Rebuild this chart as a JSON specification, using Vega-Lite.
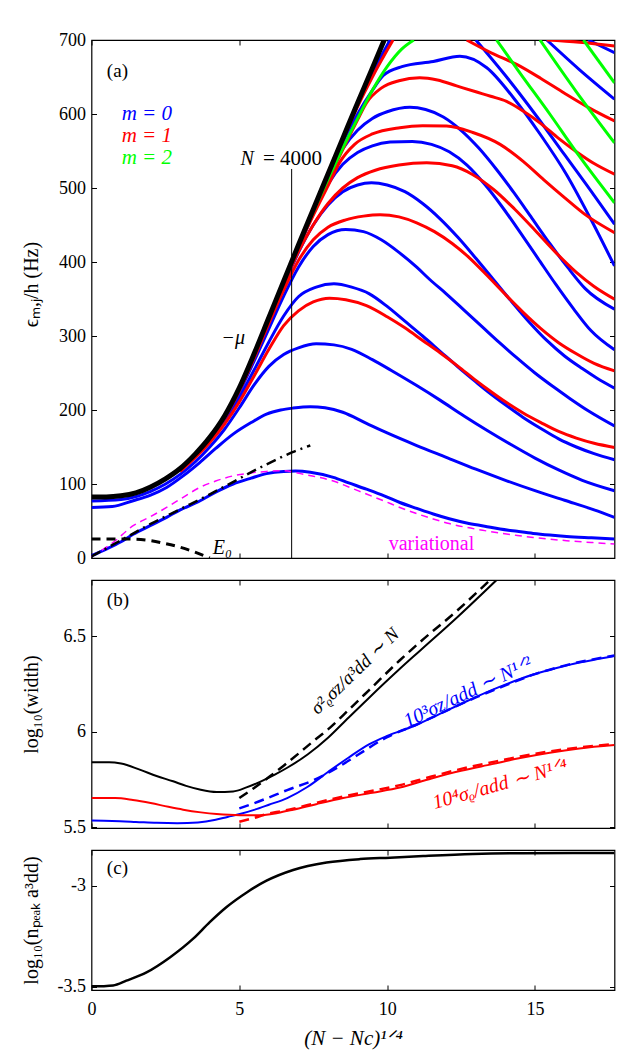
{
"$schema":"https://vega.github.io/schema/vega-lite/v6.json",
"padding":{"left":20.5,"top":30,"right":10,"bottom":10},
"spacing":22,
"bounds":"flush",
"resolve":{"scale":{"color":"independent"}},
"config":{
 "view":{"stroke":"#000","strokeWidth":1.2},
 "axis":{"grid":false,"domain":false,"tickColor":"#000","tickWidth":1,"tickSize":-5,"labelFlush":false,"labelOverlap":false,"labelFont":"Liberation Serif","labelFontSize":18,"labelColor":"#000","labelPadding":11,"titleFont":"Liberation Serif","titleFontSize":20,"titleFontWeight":"normal","titleColor":"#000"},
 "line":{"interpolate":"monotone"},
 "text":{"font":"Liberation Serif","fontSize":19,"baseline":"middle"}
},
"datasets":{
"A":[
{"s":"B1","c":"b","x":0,"y":3},{"s":"B1","c":"b","x":0.5,"y":12},{"s":"B1","c":"b","x":1,"y":22},{"s":"B1","c":"b","x":1.41,"y":32},{"s":"B1","c":"b","x":2,"y":44},{"s":"B1","c":"b","x":2.54,"y":55},{"s":"B1","c":"b","x":3,"y":65},{"s":"B1","c":"b","x":3.66,"y":77},{"s":"B1","c":"b","x":4.2,"y":89},{"s":"B1","c":"b","x":4.79,"y":100},{"s":"B1","c":"b","x":5.4,"y":108},{"s":"B1","c":"b","x":5.92,"y":114},{"s":"B1","c":"b","x":6.5,"y":117},{"s":"B1","c":"b","x":6.9,"y":117.5},{"s":"B1","c":"b","x":7.4,"y":116},{"s":"B1","c":"b","x":8.18,"y":109},{"s":"B1","c":"b","x":8.7,"y":101.5},{"s":"B1","c":"b","x":9.3,"y":93},{"s":"B1","c":"b","x":9.9,"y":84},{"s":"B1","c":"b","x":10.43,"y":75},{"s":"B1","c":"b","x":11,"y":67},{"s":"B1","c":"b","x":11.56,"y":59.4},{"s":"B1","c":"b","x":12.1,"y":53},{"s":"B1","c":"b","x":12.69,"y":47.3},{"s":"B1","c":"b","x":13.3,"y":43},{"s":"B1","c":"b","x":13.82,"y":39.2},{"s":"B1","c":"b","x":14.4,"y":36},{"s":"B1","c":"b","x":14.94,"y":33.2},{"s":"B1","c":"b","x":15.5,"y":31},{"s":"B1","c":"b","x":16.07,"y":29.2},{"s":"B1","c":"b","x":16.9,"y":27.3},{"s":"B1","c":"b","x":17.69,"y":25.6},
{"s":"B2","c":"b","x":0,"y":68.3},{"s":"B2","c":"b","x":0.7,"y":69.5},{"s":"B2","c":"b","x":1.41,"y":77.4},{"s":"B2","c":"b","x":2,"y":85},{"s":"B2","c":"b","x":2.54,"y":95.3},{"s":"B2","c":"b","x":3.1,"y":111},{"s":"B2","c":"b","x":3.66,"y":129},{"s":"B2","c":"b","x":4.2,"y":148},{"s":"B2","c":"b","x":4.79,"y":167.4},{"s":"B2","c":"b","x":5.4,"y":183},{"s":"B2","c":"b","x":5.92,"y":194.4},{"s":"B2","c":"b","x":6.4,"y":200},{"s":"B2","c":"b","x":6.82,"y":202.6},{"s":"B2","c":"b","x":7.4,"y":204.5},{"s":"B2","c":"b","x":7.9,"y":203},{"s":"B2","c":"b","x":8.5,"y":197},{"s":"B2","c":"b","x":9.3,"y":182},{"s":"B2","c":"b","x":10,"y":169},{"s":"B2","c":"b","x":11,"y":152},{"s":"B2","c":"b","x":12,"y":136},{"s":"B2","c":"b","x":13,"y":120},{"s":"B2","c":"b","x":14,"y":105},{"s":"B2","c":"b","x":15,"y":91},{"s":"B2","c":"b","x":16,"y":78},{"s":"B2","c":"b","x":17,"y":65},{"s":"B2","c":"b","x":17.69,"y":54.8},
{"s":"B3","c":"b","x":0,"y":77},{"s":"B3","c":"b","x":1,"y":79},{"s":"B3","c":"b","x":2,"y":90},{"s":"B3","c":"b","x":3,"y":113},{"s":"B3","c":"b","x":4,"y":150},{"s":"B3","c":"b","x":4.5,"y":174},{"s":"B3","c":"b","x":5,"y":203},{"s":"B3","c":"b","x":5.5,"y":234},{"s":"B3","c":"b","x":6,"y":259},{"s":"B3","c":"b","x":6.5,"y":275},{"s":"B3","c":"b","x":7,"y":284},{"s":"B3","c":"b","x":7.6,"y":289.5},{"s":"B3","c":"b","x":8.2,"y":288},{"s":"B3","c":"b","x":8.8,"y":282},{"s":"B3","c":"b","x":9.5,"y":268},{"s":"B3","c":"b","x":10.2,"y":252},{"s":"B3","c":"b","x":11,"y":233},{"s":"B3","c":"b","x":11.8,"y":213},{"s":"B3","c":"b","x":12.6,"y":192},{"s":"B3","c":"b","x":13.4,"y":172},{"s":"B3","c":"b","x":14.2,"y":153},{"s":"B3","c":"b","x":15,"y":135},{"s":"B3","c":"b","x":15.8,"y":119},{"s":"B3","c":"b","x":16.6,"y":105},{"s":"B3","c":"b","x":17.69,"y":90.9},
{"s":"B4","c":"b","x":3,"y":118},{"s":"B4","c":"b","x":4,"y":159},{"s":"B4","c":"b","x":4.5,"y":185},{"s":"B4","c":"b","x":5,"y":217},{"s":"B4","c":"b","x":5.5,"y":254},{"s":"B4","c":"b","x":6,"y":292},{"s":"B4","c":"b","x":6.5,"y":327},{"s":"B4","c":"b","x":7,"y":353},{"s":"B4","c":"b","x":7.6,"y":366},{"s":"B4","c":"b","x":8.2,"y":370.5},{"s":"B4","c":"b","x":8.8,"y":366},{"s":"B4","c":"b","x":9.4,"y":357},{"s":"B4","c":"b","x":10,"y":340},{"s":"B4","c":"b","x":10.6,"y":320},{"s":"B4","c":"b","x":11.2,"y":300},{"s":"B4","c":"b","x":11.8,"y":279},{"s":"B4","c":"b","x":12.4,"y":258},{"s":"B4","c":"b","x":13,"y":238},{"s":"B4","c":"b","x":13.4,"y":225},{"s":"B4","c":"b","x":14,"y":207},{"s":"B4","c":"b","x":14.6,"y":190},{"s":"B4","c":"b","x":15.2,"y":175},{"s":"B4","c":"b","x":15.8,"y":161},{"s":"B4","c":"b","x":16.4,"y":150},{"s":"B4","c":"b","x":17,"y":141},{"s":"B4","c":"b","x":17.69,"y":132.7},
{"s":"B5","c":"b","x":3,"y":119},{"s":"B5","c":"b","x":4,"y":161},{"s":"B5","c":"b","x":4.5,"y":188},{"s":"B5","c":"b","x":5,"y":224},{"s":"B5","c":"b","x":5.5,"y":266},{"s":"B5","c":"b","x":6,"y":310},{"s":"B5","c":"b","x":6.5,"y":354},{"s":"B5","c":"b","x":7,"y":393},{"s":"B5","c":"b","x":7.5,"y":421},{"s":"B5","c":"b","x":8,"y":437},{"s":"B5","c":"b","x":8.6,"y":444},{"s":"B5","c":"b","x":9.2,"y":441},{"s":"B5","c":"b","x":9.8,"y":430},{"s":"B5","c":"b","x":10.4,"y":413},{"s":"B5","c":"b","x":11,"y":393},{"s":"B5","c":"b","x":11.45,"y":376},{"s":"B5","c":"b","x":12,"y":357},{"s":"B5","c":"b","x":12.6,"y":335},{"s":"B5","c":"b","x":13.2,"y":313},{"s":"B5","c":"b","x":13.8,"y":291},{"s":"B5","c":"b","x":14.4,"y":270},{"s":"B5","c":"b","x":15,"y":250},{"s":"B5","c":"b","x":15.6,"y":232},{"s":"B5","c":"b","x":16.2,"y":215},{"s":"B5","c":"b","x":16.8,"y":199},{"s":"B5","c":"b","x":17.69,"y":178.4},
{"s":"B6","c":"b","x":3,"y":120},{"s":"B6","c":"b","x":4,"y":162},{"s":"B6","c":"b","x":4.5,"y":190},{"s":"B6","c":"b","x":5,"y":228},{"s":"B6","c":"b","x":5.5,"y":273},{"s":"B6","c":"b","x":6,"y":321},{"s":"B6","c":"b","x":6.5,"y":368},{"s":"B6","c":"b","x":7,"y":413},{"s":"B6","c":"b","x":7.5,"y":450},{"s":"B6","c":"b","x":8,"y":477},{"s":"B6","c":"b","x":8.5,"y":495},{"s":"B6","c":"b","x":9,"y":504},{"s":"B6","c":"b","x":9.47,"y":507},{"s":"B6","c":"b","x":10,"y":504},{"s":"B6","c":"b","x":10.6,"y":495},{"s":"B6","c":"b","x":11.2,"y":479},{"s":"B6","c":"b","x":11.8,"y":458},{"s":"B6","c":"b","x":12.4,"y":433},{"s":"B6","c":"b","x":13,"y":405},{"s":"B6","c":"b","x":13.6,"y":376},{"s":"B6","c":"b","x":14.2,"y":347},{"s":"B6","c":"b","x":14.8,"y":319},{"s":"B6","c":"b","x":15.4,"y":294},{"s":"B6","c":"b","x":16,"y":273},{"s":"B6","c":"b","x":16.6,"y":256},{"s":"B6","c":"b","x":17.1,"y":243},{"s":"B6","c":"b","x":17.69,"y":229.6},
{"s":"B7","c":"b","x":4.5,"y":190},{"s":"B7","c":"b","x":5,"y":229},{"s":"B7","c":"b","x":5.5,"y":275},{"s":"B7","c":"b","x":6,"y":323},{"s":"B7","c":"b","x":6.5,"y":371},{"s":"B7","c":"b","x":7,"y":419},{"s":"B7","c":"b","x":7.5,"y":465},{"s":"B7","c":"b","x":8,"y":505},{"s":"B7","c":"b","x":8.5,"y":532},{"s":"B7","c":"b","x":9,"y":548},{"s":"B7","c":"b","x":9.5,"y":557},{"s":"B7","c":"b","x":10.1,"y":562},{"s":"B7","c":"b","x":10.85,"y":563},{"s":"B7","c":"b","x":11.5,"y":559},{"s":"B7","c":"b","x":12.1,"y":549},{"s":"B7","c":"b","x":12.7,"y":531},{"s":"B7","c":"b","x":13.3,"y":505},{"s":"B7","c":"b","x":13.9,"y":474},{"s":"B7","c":"b","x":14.5,"y":440},{"s":"B7","c":"b","x":15.1,"y":405},{"s":"B7","c":"b","x":15.7,"y":370},{"s":"B7","c":"b","x":16.3,"y":337},{"s":"B7","c":"b","x":16.9,"y":307},{"s":"B7","c":"b","x":17.69,"y":281.3},
{"s":"B8","c":"b","x":4.5,"y":191},{"s":"B8","c":"b","x":5,"y":229.5},{"s":"B8","c":"b","x":6,"y":324},{"s":"B8","c":"b","x":7,"y":421},{"s":"B8","c":"b","x":7.5,"y":468},{"s":"B8","c":"b","x":8,"y":514},{"s":"B8","c":"b","x":8.5,"y":553},{"s":"B8","c":"b","x":9,"y":578},{"s":"B8","c":"b","x":9.5,"y":594},{"s":"B8","c":"b","x":10,"y":603},{"s":"B8","c":"b","x":10.77,"y":609},{"s":"B8","c":"b","x":11.3,"y":606},{"s":"B8","c":"b","x":11.9,"y":596},{"s":"B8","c":"b","x":12.5,"y":578},{"s":"B8","c":"b","x":13.1,"y":554},{"s":"B8","c":"b","x":13.7,"y":525},{"s":"B8","c":"b","x":14.3,"y":493},{"s":"B8","c":"b","x":14.9,"y":459},{"s":"B8","c":"b","x":15.5,"y":425},{"s":"B8","c":"b","x":16.1,"y":393},{"s":"B8","c":"b","x":16.7,"y":364},{"s":"B8","c":"b","x":17.69,"y":336.2},
{"s":"B9","c":"b","x":4.5,"y":191},{"s":"B9","c":"b","x":5,"y":230},{"s":"B9","c":"b","x":6,"y":324.5},{"s":"B9","c":"b","x":7,"y":422},{"s":"B9","c":"b","x":8,"y":518},{"s":"B9","c":"b","x":8.5,"y":562},{"s":"B9","c":"b","x":9,"y":600},{"s":"B9","c":"b","x":9.5,"y":632},{"s":"B9","c":"b","x":9.87,"y":652},{"s":"B9","c":"b","x":10.5,"y":664},{"s":"B9","c":"b","x":11.56,"y":671},{"s":"B9","c":"b","x":12.46,"y":678},{"s":"B9","c":"b","x":13.37,"y":662.5},{"s":"B9","c":"b","x":14.27,"y":622},{"s":"B9","c":"b","x":15.17,"y":573},{"s":"B9","c":"b","x":16.07,"y":518},{"s":"B9","c":"b","x":16.9,"y":457},{"s":"B9","c":"b","x":17.69,"y":394.7},
{"s":"B10a","c":"b","x":4.5,"y":191.5},{"s":"B10a","c":"b","x":5,"y":230},{"s":"B10a","c":"b","x":6,"y":325},{"s":"B10a","c":"b","x":7,"y":422.5},{"s":"B10a","c":"b","x":8,"y":518.5},{"s":"B10a","c":"b","x":9,"y":612},{"s":"B10a","c":"b","x":9.5,"y":655},{"s":"B10a","c":"b","x":10.1,"y":700},
{"s":"B10b","c":"b","x":13,"y":700},{"s":"B10b","c":"b","x":14,"y":652},{"s":"B10b","c":"b","x":15,"y":600},{"s":"B10b","c":"b","x":16,"y":545},{"s":"B10b","c":"b","x":17,"y":490},{"s":"B10b","c":"b","x":17.69,"y":451},
{"s":"B11","c":"b","x":15.4,"y":700},{"s":"B11","c":"b","x":16.5,"y":660},{"s":"B11","c":"b","x":17.69,"y":620},
{"s":"B12","c":"b","x":16.8,"y":700},{"s":"B12","c":"b","x":17.69,"y":682.8},
{"s":"R1","c":"r","x":3,"y":117},{"s":"R1","c":"r","x":4,"y":156},{"s":"R1","c":"r","x":4.5,"y":181},{"s":"R1","c":"r","x":5,"y":211},{"s":"R1","c":"r","x":5.5,"y":246},{"s":"R1","c":"r","x":6,"y":282},{"s":"R1","c":"r","x":6.5,"y":314},{"s":"R1","c":"r","x":7,"y":334},{"s":"R1","c":"r","x":7.5,"y":346},{"s":"R1","c":"r","x":8.05,"y":351},{"s":"R1","c":"r","x":8.6,"y":349},{"s":"R1","c":"r","x":9.3,"y":341},{"s":"R1","c":"r","x":10,"y":326},{"s":"R1","c":"r","x":10.6,"y":311},{"s":"R1","c":"r","x":11.2,"y":294},{"s":"R1","c":"r","x":11.8,"y":277},{"s":"R1","c":"r","x":12.4,"y":259},{"s":"R1","c":"r","x":13,"y":240},{"s":"R1","c":"r","x":13.4,"y":228},{"s":"R1","c":"r","x":14,"y":211},{"s":"R1","c":"r","x":14.6,"y":196},{"s":"R1","c":"r","x":15.2,"y":183},{"s":"R1","c":"r","x":15.8,"y":171},{"s":"R1","c":"r","x":16.4,"y":162},{"s":"R1","c":"r","x":17,"y":155},{"s":"R1","c":"r","x":17.69,"y":149.4},
{"s":"R2","c":"r","x":3,"y":119},{"s":"R2","c":"r","x":4,"y":161},{"s":"R2","c":"r","x":4.5,"y":189},{"s":"R2","c":"r","x":5,"y":226},{"s":"R2","c":"r","x":5.5,"y":270},{"s":"R2","c":"r","x":6,"y":317},{"s":"R2","c":"r","x":6.5,"y":362},{"s":"R2","c":"r","x":7,"y":402},{"s":"R2","c":"r","x":7.5,"y":430},{"s":"R2","c":"r","x":8,"y":447},{"s":"R2","c":"r","x":8.6,"y":457},{"s":"R2","c":"r","x":9.2,"y":462},{"s":"R2","c":"r","x":9.76,"y":464},{"s":"R2","c":"r","x":10.4,"y":461},{"s":"R2","c":"r","x":11,"y":453},{"s":"R2","c":"r","x":11.6,"y":441},{"s":"R2","c":"r","x":12.2,"y":425},{"s":"R2","c":"r","x":12.8,"y":405},{"s":"R2","c":"r","x":13.4,"y":381},{"s":"R2","c":"r","x":14,"y":356},{"s":"R2","c":"r","x":14.6,"y":332},{"s":"R2","c":"r","x":15.2,"y":310},{"s":"R2","c":"r","x":15.8,"y":291},{"s":"R2","c":"r","x":16.4,"y":276},{"s":"R2","c":"r","x":17,"y":263},{"s":"R2","c":"r","x":17.69,"y":252.9},
{"s":"R3","c":"r","x":4.5,"y":190},{"s":"R3","c":"r","x":5,"y":228.5},{"s":"R3","c":"r","x":6,"y":321},{"s":"R3","c":"r","x":7,"y":414},{"s":"R3","c":"r","x":7.5,"y":450},{"s":"R3","c":"r","x":8,"y":479},{"s":"R3","c":"r","x":8.5,"y":500},{"s":"R3","c":"r","x":9,"y":514},{"s":"R3","c":"r","x":9.6,"y":524},{"s":"R3","c":"r","x":10.4,"y":531},{"s":"R3","c":"r","x":11.34,"y":534},{"s":"R3","c":"r","x":12.2,"y":530},{"s":"R3","c":"r","x":12.9,"y":518},{"s":"R3","c":"r","x":13.6,"y":498},{"s":"R3","c":"r","x":14.3,"y":472},{"s":"R3","c":"r","x":15,"y":443},{"s":"R3","c":"r","x":15.7,"y":413},{"s":"R3","c":"r","x":16.4,"y":386},{"s":"R3","c":"r","x":17,"y":367},{"s":"R3","c":"r","x":17.69,"y":349.8},
{"s":"R4","c":"r","x":4.5,"y":191},{"s":"R4","c":"r","x":5,"y":229},{"s":"R4","c":"r","x":6,"y":323},{"s":"R4","c":"r","x":7,"y":420},{"s":"R4","c":"r","x":7.5,"y":463},{"s":"R4","c":"r","x":8,"y":503},{"s":"R4","c":"r","x":8.4,"y":535},{"s":"R4","c":"r","x":8.9,"y":559},{"s":"R4","c":"r","x":9.5,"y":573},{"s":"R4","c":"r","x":10.43,"y":581.5},{"s":"R4","c":"r","x":11.2,"y":584},{"s":"R4","c":"r","x":12.01,"y":583.7},{"s":"R4","c":"r","x":12.9,"y":575},{"s":"R4","c":"r","x":13.82,"y":559},{"s":"R4","c":"r","x":14.6,"y":536},{"s":"R4","c":"r","x":15.3,"y":511},{"s":"R4","c":"r","x":16,"y":487},{"s":"R4","c":"r","x":16.7,"y":464},{"s":"R4","c":"r","x":17.69,"y":439.7},
{"s":"R5","c":"r","x":4.5,"y":191},{"s":"R5","c":"r","x":5,"y":229.5},{"s":"R5","c":"r","x":6,"y":324},{"s":"R5","c":"r","x":7,"y":421},{"s":"R5","c":"r","x":7.5,"y":467},{"s":"R5","c":"r","x":8,"y":510},{"s":"R5","c":"r","x":8.5,"y":552},{"s":"R5","c":"r","x":9,"y":592},{"s":"R5","c":"r","x":9.3,"y":615},{"s":"R5","c":"r","x":9.8,"y":635},{"s":"R5","c":"r","x":10.4,"y":645},{"s":"R5","c":"r","x":11.1,"y":649},{"s":"R5","c":"r","x":11.7,"y":646},{"s":"R5","c":"r","x":12.35,"y":638},{"s":"R5","c":"r","x":13,"y":630},{"s":"R5","c":"r","x":13.5,"y":624},{"s":"R5","c":"r","x":14.04,"y":617},{"s":"R5","c":"r","x":14.6,"y":604},{"s":"R5","c":"r","x":15.2,"y":587},{"s":"R5","c":"r","x":15.8,"y":567},{"s":"R5","c":"r","x":16.4,"y":549},{"s":"R5","c":"r","x":17,"y":533},{"s":"R5","c":"r","x":17.69,"y":518.6},
{"s":"R6a","c":"r","x":4.5,"y":191.5},{"s":"R6a","c":"r","x":5,"y":230},{"s":"R6a","c":"r","x":6,"y":325},{"s":"R6a","c":"r","x":7,"y":422},{"s":"R6a","c":"r","x":8,"y":517},{"s":"R6a","c":"r","x":9,"y":610},{"s":"R6a","c":"r","x":9.5,"y":650},{"s":"R6a","c":"r","x":10.2,"y":700},
{"s":"R6b","c":"r","x":12.69,"y":700},{"s":"R6b","c":"r","x":13.5,"y":683},{"s":"R6b","c":"r","x":14.38,"y":667},{"s":"R6b","c":"r","x":15.2,"y":648},{"s":"R6b","c":"r","x":16,"y":628},{"s":"R6b","c":"r","x":16.8,"y":609},{"s":"R6b","c":"r","x":17.69,"y":590.5},
{"s":"R7","c":"r","x":15.4,"y":700},{"s":"R7","c":"r","x":16.5,"y":697},{"s":"R7","c":"r","x":17.69,"y":692},
{"s":"G1a","c":"g","x":4.5,"y":191.5},{"s":"G1a","c":"g","x":5,"y":230},{"s":"G1a","c":"g","x":6,"y":324.5},{"s":"G1a","c":"g","x":7,"y":421.5},{"s":"G1a","c":"g","x":7.5,"y":468},{"s":"G1a","c":"g","x":8,"y":512},{"s":"G1a","c":"g","x":8.5,"y":554},{"s":"G1a","c":"g","x":9,"y":594},{"s":"G1a","c":"g","x":9.5,"y":632},{"s":"G1a","c":"g","x":10,"y":664},{"s":"G1a","c":"g","x":10.5,"y":688},{"s":"G1a","c":"g","x":10.9,"y":700},
{"s":"G1b","c":"g","x":13.7,"y":700},{"s":"G1b","c":"g","x":14.5,"y":655},{"s":"G1b","c":"g","x":15.5,"y":600},{"s":"G1b","c":"g","x":16.5,"y":543},{"s":"G1b","c":"g","x":17.69,"y":480},
{"s":"G2","c":"g","x":15.17,"y":700},{"s":"G2","c":"g","x":16.4,"y":630},{"s":"G2","c":"g","x":17.69,"y":561},
{"s":"G3","c":"g","x":16.64,"y":700},{"s":"G3","c":"g","x":17.69,"y":642}
],
"MU":[{"x":0,"y":82.5},{"x":0.5,"y":82.5},{"x":1,"y":84},{"x":1.5,"y":88},{"x":2,"y":96},{"x":2.5,"y":107},{"x":3,"y":121},{"x":3.5,"y":140},{"x":4,"y":163},{"x":4.5,"y":192},{"x":5,"y":230},{"x":5.5,"y":276},{"x":6,"y":325},{"x":6.5,"y":374},{"x":7,"y":423},{"x":7.5,"y":471},{"x":8,"y":519},{"x":8.5,"y":567},{"x":9,"y":615},{"x":9.5,"y":662},{"x":9.9,"y":700}],
"VAR":[{"x":0,"y":2},{"x":0.7,"y":20},{"x":1.41,"y":43.6},{"x":2,"y":56},{"x":2.54,"y":68.3},{"x":3.1,"y":82},{"x":3.66,"y":95.3},{"x":4.2,"y":104},{"x":4.79,"y":111},{"x":5.4,"y":115},{"x":5.92,"y":117},{"x":6.4,"y":118},{"x":7.3,"y":112},{"x":8.18,"y":104},{"x":8.7,"y":96},{"x":9.3,"y":86.4},{"x":9.9,"y":77},{"x":10.43,"y":68.3},{"x":11,"y":60},{"x":11.56,"y":52.7},{"x":12.1,"y":46.5},{"x":12.69,"y":41.3},{"x":13.3,"y":37},{"x":13.82,"y":33.7},{"x":14.4,"y":30.5},{"x":14.94,"y":27.8},{"x":15.5,"y":25.5},{"x":16.07,"y":23.4},{"x":16.9,"y":21},{"x":17.69,"y":18.9}],
"E0":[{"x":0,"y":25.6},{"x":1.4,"y":25.5},{"x":2,"y":23.5},{"x":2.5,"y":19.5},{"x":3,"y":14.5},{"x":3.5,"y":8},{"x":4,"y":0}],
"DD":[{"x":0,"y":2},{"x":1,"y":24},{"x":2,"y":46},{"x":3,"y":66},{"x":4,"y":86},{"x":4.8,"y":103},{"x":5.5,"y":118},{"x":6.2,"y":132},{"x":6.8,"y":143},{"x":7.4,"y":152}],
"PB":[
{"s":"bk","x":0,"y":5.84},{"s":"bk","x":0.6,"y":5.84},{"s":"bk","x":1,"y":5.833},{"s":"bk","x":1.63,"y":5.801},{"s":"bk","x":2.2,"y":5.768},{"s":"bk","x":2.76,"y":5.74},{"s":"bk","x":3.2,"y":5.716},{"s":"bk","x":3.66,"y":5.697},{"s":"bk","x":4.23,"y":5.684},{"s":"bk","x":4.79,"y":5.687},{"s":"bk","x":5.24,"y":5.708},{"s":"bk","x":5.7,"y":5.737},{"s":"bk","x":6.2,"y":5.775},{"s":"bk","x":6.62,"y":5.811},{"s":"bk","x":7.32,"y":5.882},{"s":"bk","x":8.01,"y":5.97},{"s":"bk","x":8.7,"y":6.075},{"s":"bk","x":9.4,"y":6.18},{"s":"bk","x":10.43,"y":6.33},{"s":"bk","x":11.11,"y":6.425},{"s":"bk","x":12.4,"y":6.605},{"s":"bk","x":13.7,"y":6.796},
{"s":"bkd","x":5,"y":5.652},{"s":"bkd","x":5.5,"y":5.705},{"s":"bkd","x":6,"y":5.762},{"s":"bkd","x":6.5,"y":5.822},{"s":"bkd","x":7,"y":5.885},{"s":"bkd","x":7.5,"y":5.95},{"s":"bkd","x":8.06,"y":6.02},{"s":"bkd","x":8.7,"y":6.115},{"s":"bkd","x":9.4,"y":6.22},{"s":"bkd","x":10.43,"y":6.375},{"s":"bkd","x":11.11,"y":6.47},{"s":"bkd","x":12.4,"y":6.64},{"s":"bkd","x":13.48,"y":6.796},
{"s":"bl","x":0,"y":5.534},{"s":"bl","x":0.7,"y":5.532},{"s":"bl","x":1.5,"y":5.527},{"s":"bl","x":2.2,"y":5.522},{"s":"bl","x":2.9,"y":5.52},{"s":"bl","x":3.6,"y":5.524},{"s":"bl","x":4.2,"y":5.538},{"s":"bl","x":4.6,"y":5.553},{"s":"bl","x":5.02,"y":5.568},{"s":"bl","x":5.5,"y":5.59},{"s":"bl","x":6,"y":5.617},{"s":"bl","x":6.62,"y":5.652},{"s":"bl","x":7.3,"y":5.71},{"s":"bl","x":8.01,"y":5.79},{"s":"bl","x":8.7,"y":5.865},{"s":"bl","x":9.4,"y":5.935},{"s":"bl","x":10,"y":5.978},{"s":"bl","x":10.9,"y":6.03},{"s":"bl","x":11.8,"y":6.095},{"s":"bl","x":12.69,"y":6.16},{"s":"bl","x":13.8,"y":6.235},{"s":"bl","x":14.94,"y":6.3},{"s":"bl","x":16,"y":6.345},{"s":"bl","x":17.69,"y":6.397},
{"s":"bld","x":5,"y":5.598},{"s":"bld","x":5.5,"y":5.625},{"s":"bld","x":6,"y":5.655},{"s":"bld","x":6.62,"y":5.694},{"s":"bld","x":7.5,"y":5.745},{"s":"bld","x":8.3,"y":5.81},{"s":"bld","x":9,"y":5.878},{"s":"bld","x":10,"y":5.972},{"s":"bld","x":11,"y":6.038},{"s":"bld","x":12,"y":6.11},{"s":"bld","x":13,"y":6.18},{"s":"bld","x":14,"y":6.243},{"s":"bld","x":15,"y":6.302},{"s":"bld","x":16,"y":6.347},{"s":"bld","x":17.69,"y":6.4},
{"s":"rd","x":0,"y":5.652},{"s":"rd","x":0.8,"y":5.652},{"s":"rd","x":1.4,"y":5.642},{"s":"rd","x":2,"y":5.626},{"s":"rd","x":2.6,"y":5.606},{"s":"rd","x":3.1,"y":5.591},{"s":"rd","x":3.7,"y":5.577},{"s":"rd","x":4.23,"y":5.568},{"s":"rd","x":5.02,"y":5.562},{"s":"rd","x":5.7,"y":5.562},{"s":"rd","x":6.3,"y":5.574},{"s":"rd","x":6.82,"y":5.591},{"s":"rd","x":7.6,"y":5.62},{"s":"rd","x":8.51,"y":5.652},{"s":"rd","x":9.5,"y":5.68},{"s":"rd","x":10.43,"y":5.707},{"s":"rd","x":11.5,"y":5.755},{"s":"rd","x":12.5,"y":5.795},{"s":"rd","x":13.55,"y":5.83},{"s":"rd","x":14.5,"y":5.862},{"s":"rd","x":15.5,"y":5.89},{"s":"rd","x":16.5,"y":5.912},{"s":"rd","x":17.69,"y":5.93},
{"s":"rdd","x":5,"y":5.528},{"s":"rdd","x":5.5,"y":5.548},{"s":"rdd","x":5.93,"y":5.568},{"s":"rdd","x":6.4,"y":5.583},{"s":"rdd","x":6.82,"y":5.596},{"s":"rdd","x":7.6,"y":5.627},{"s":"rdd","x":8.51,"y":5.66},{"s":"rdd","x":9.5,"y":5.69},{"s":"rdd","x":10.43,"y":5.72},{"s":"rdd","x":11.5,"y":5.765},{"s":"rdd","x":12.5,"y":5.805},{"s":"rdd","x":13.55,"y":5.84},{"s":"rdd","x":14.5,"y":5.87},{"s":"rdd","x":15.5,"y":5.897},{"s":"rdd","x":16.5,"y":5.918},{"s":"rdd","x":17.69,"y":5.935}
],
"PC":[{"x":0,"y":-3.498},{"x":0.4,"y":-3.497},{"x":0.73,"y":-3.494},{"x":1.18,"y":-3.47},{"x":1.86,"y":-3.429},{"x":2.65,"y":-3.355},{"x":3.44,"y":-3.262},{"x":4,"y":-3.18},{"x":4.57,"y":-3.105},{"x":5.25,"y":-3.033},{"x":5.92,"y":-2.975},{"x":6.82,"y":-2.922},{"x":7.95,"y":-2.885},{"x":9.08,"y":-2.868},{"x":10.1,"y":-2.861},{"x":11.22,"y":-2.853},{"x":12.9,"y":-2.843},{"x":14.6,"y":-2.839},{"x":17.69,"y":-2.838}]
},
"vconcat":[
{
 "width":523,"height":518,
 "resolve":{"axis":{"x":"independent","y":"independent"}},
 "layer":[
  {"data":{"name":"A"},"mark":{"type":"line","strokeWidth":3,"clip":true},
   "encoding":{
    "x":{"field":"x","type":"quantitative","scale":{"domain":[0,17.69],"nice":false,"zero":false},"axis":{"orient":"bottom","values":[0,5,10,15],"labels":false,"title":null}},
    "y":{"field":"y","type":"quantitative","scale":{"domain":[0,700],"nice":false},"axis":{"orient":"left","values":[0,100,200,300,400,500,600,700],"labelFont":"Liberation Serif","labelExpr":"toString(datum.value)","title":"ϵₘ,ⱼ/h (Hz)","titleX":-54,"titleY":244,"titleBaseline":"alphabetic"}},
    "color":{"field":"c","type":"nominal","scale":{"domain":["b","r","g"],"range":["#0000ff","#ff0000","#00ff00"]},"legend":null},
    "detail":{"field":"s"}}},
  {"data":{"name":"MU"},"mark":{"type":"line","strokeWidth":5,"color":"#000","clip":true},
   "encoding":{"x":{"field":"x","type":"quantitative","axis":null},"y":{"field":"y","type":"quantitative","axis":null}}},
  {"data":{"name":"VAR"},"mark":{"type":"line","strokeWidth":1.5,"color":"#ff00ff","strokeDash":[7,5],"clip":true},
   "encoding":{"x":{"field":"x","type":"quantitative","axis":null},"y":{"field":"y","type":"quantitative","axis":null}}},
  {"data":{"name":"E0"},"mark":{"type":"line","strokeWidth":3,"color":"#000","strokeDash":[9,6],"clip":true},
   "encoding":{"x":{"field":"x","type":"quantitative","axis":null},"y":{"field":"y","type":"quantitative","axis":null}}},
  {"data":{"name":"DD"},"mark":{"type":"line","strokeWidth":2.5,"color":"#000","strokeDash":[10,5,2,5],"clip":true},
   "encoding":{"x":{"field":"x","type":"quantitative","axis":null},"y":{"field":"y","type":"quantitative","axis":null}}},
  {"data":{"values":[{"x":6.77,"y":0,"y2":525.7}]},"mark":{"type":"rule","strokeWidth":1,"color":"#000"},
   "encoding":{"x":{"field":"x","type":"quantitative","axis":null},"y":{"field":"y","type":"quantitative","axis":null},"y2":{"field":"y2"}}},
  {"data":{"values":[{"t":"(a)","x":0.52,"y":658}]},"mark":{"type":"text","align":"left","fontSize":19},
   "encoding":{"x":{"field":"x","type":"quantitative","axis":{"orient":"top","values":[0,5,10,15],"labels":false,"title":null}},"y":{"field":"y","type":"quantitative","axis":{"orient":"right","values":[0,100,200,300,400,500,600,700],"labels":false,"title":null}},"text":{"field":"t"}}},
  {"data":{"values":[{"t":"m = 0","c":"b","x":1.02,"y":600},{"t":"m = 1","c":"r","x":1.02,"y":570},{"t":"m = 2","c":"g","x":1.02,"y":540}]},"mark":{"type":"text","align":"left","fontSize":21,"fontStyle":"italic"},
   "encoding":{"x":{"field":"x","type":"quantitative","axis":null},"y":{"field":"y","type":"quantitative","axis":null},"text":{"field":"t"},"color":{"field":"c","type":"nominal","legend":null}}},
  {"data":{"values":[{"t":"N","x":5.04,"y":539},{"t":"−μ","x":4.4,"y":297.7}]},"mark":{"type":"text","align":"left","fontSize":20,"fontStyle":"italic"},
   "encoding":{"x":{"field":"x","type":"quantitative","axis":null},"y":{"field":"y","type":"quantitative","axis":null},"text":{"field":"t"}}},
  {"data":{"values":[{"t":"= 4000","x":5.8,"y":539}]},"mark":{"type":"text","align":"left","fontSize":21},
   "encoding":{"x":{"field":"x","type":"quantitative","axis":null},"y":{"field":"y","type":"quantitative","axis":null},"text":{"field":"t"}}},
  {"data":{"values":[{"t":"E₀","x":4.1,"y":14}]},"mark":{"type":"text","align":"left","fontSize":20,"fontStyle":"italic"},
   "encoding":{"x":{"field":"x","type":"quantitative","axis":null},"y":{"field":"y","type":"quantitative","axis":null},"text":{"field":"t"}}},
  {"data":{"values":[{"t":"variational","x":11.5,"y":19.3}]},"mark":{"type":"text","align":"center","fontSize":20,"color":"#ff00ff"},
   "encoding":{"x":{"field":"x","type":"quantitative","axis":null},"y":{"field":"y","type":"quantitative","axis":null},"text":{"field":"t"}}}
 ]
},
{
 "width":523,"height":248,
 "resolve":{"axis":{"x":"independent","y":"independent"}},
 "layer":[
  {"data":{"name":"PB"},"transform":[{"filter":{"field":"s","oneOf":["bk","bl","rd"]}}],"mark":{"type":"line","strokeWidth":2,"clip":true},
   "encoding":{
    "x":{"field":"x","type":"quantitative","scale":{"domain":[0,17.69],"nice":false,"zero":false},"axis":{"orient":"bottom","values":[0,5,10,15],"labels":false,"title":null}},
    "y":{"field":"y","type":"quantitative","scale":{"domain":[5.495,6.796],"nice":false,"zero":false},"axis":{"orient":"left","values":[5.5,6,6.5],"labelFont":"Liberation Serif","labelExpr":"toString(datum.value)","title":"log₁₀(width)","titleX":-54,"titleBaseline":"alphabetic"}},
    "color":{"field":"s","type":"nominal","scale":{"domain":["bk","bl","rd","bkd","bld","rdd"],"range":["#000000","#0000ff","#ff0000","#000000","#0000ff","#ff0000"]},"legend":null}}},
  {"data":{"name":"PB"},"transform":[{"filter":{"field":"s","oneOf":["bkd","bld","rdd"]}}],"mark":{"type":"line","strokeWidth":2.5,"strokeDash":[10,6],"clip":true},
   "encoding":{"x":{"field":"x","type":"quantitative","axis":null},"y":{"field":"y","type":"quantitative","axis":null},"color":{"field":"s","type":"nominal","legend":null}}},
  {"data":{"values":[{"t":"(b)","x":0.52,"y":6.69}]},"mark":{"type":"text","align":"left","fontSize":19},
   "encoding":{"x":{"field":"x","type":"quantitative","axis":{"orient":"top","values":[0,5,10,15],"labels":false,"title":null}},"y":{"field":"y","type":"quantitative","axis":{"orient":"right","values":[5.5,6,6.5],"labels":false,"title":null}},"text":{"field":"t"}}},
  {"data":{"values":[{"t":"σ²ᵨσz/a³dd ∼ N","x":8.91,"y":6.318}]},"mark":{"type":"text","align":"center","fontSize":19,"fontStyle":"italic","angle":316,"color":"#000"},
   "encoding":{"x":{"field":"x","type":"quantitative","axis":null},"y":{"field":"y","type":"quantitative","axis":null},"text":{"field":"t"}}},
  {"data":{"values":[{"t":"10³σz/add ∼ N¹ᐟ²","x":12.73,"y":6.207}]},"mark":{"type":"text","align":"center","fontSize":20,"fontStyle":"italic","angle":334.4,"color":"#0000ff"},
   "encoding":{"x":{"field":"x","type":"quantitative","axis":null},"y":{"field":"y","type":"quantitative","axis":null},"text":{"field":"t"}}},
  {"data":{"values":[{"t":"10⁴σᵨ/add ∼ N¹ᐟ⁴","x":13.82,"y":5.724}]},"mark":{"type":"text","align":"center","fontSize":20,"fontStyle":"italic","angle":344.3,"color":"#ff0000"},
   "encoding":{"x":{"field":"x","type":"quantitative","axis":null},"y":{"field":"y","type":"quantitative","axis":null},"text":{"field":"t"}}}
 ]
},
{
 "width":523,"height":140,
 "resolve":{"axis":{"x":"independent","y":"independent"}},
 "layer":[
  {"data":{"name":"PC"},"mark":{"type":"line","strokeWidth":2.5,"color":"#000","clip":true},
   "encoding":{
    "x":{"field":"x","type":"quantitative","scale":{"domain":[0,17.69],"nice":false,"zero":false},"axis":{"orient":"bottom","values":[0,5,10,15],"labels":true,"labelFont":"Liberation Serif","labelExpr":"toString(datum.value)","labelPadding":15,"title":"(N − Nc)¹ᐟ⁴","titleY":54,"titleBaseline":"alphabetic","titleFontStyle":"italic","titleFontSize":21}},
    "y":{"field":"y","type":"quantitative","scale":{"domain":[-3.516,-2.823],"nice":false,"zero":false},"axis":{"orient":"left","values":[-3.5,-3],"labelFont":"Liberation Serif","labelExpr":"toString(datum.value)","title":"log₁₀(nₚₑₐₖ a³dd)","titleX":-54,"titleBaseline":"alphabetic"}}}},
  {"data":{"values":[{"t":"(c)","x":0.52,"y":-2.911}]},"mark":{"type":"text","align":"left","fontSize":19},
   "encoding":{"x":{"field":"x","type":"quantitative","axis":{"orient":"top","values":[0,5,10,15],"labels":false,"title":null}},"y":{"field":"y","type":"quantitative","axis":{"orient":"right","values":[-3.5,-3],"labels":false,"title":null}},"text":{"field":"t"}}}
 ]
}
]
}
